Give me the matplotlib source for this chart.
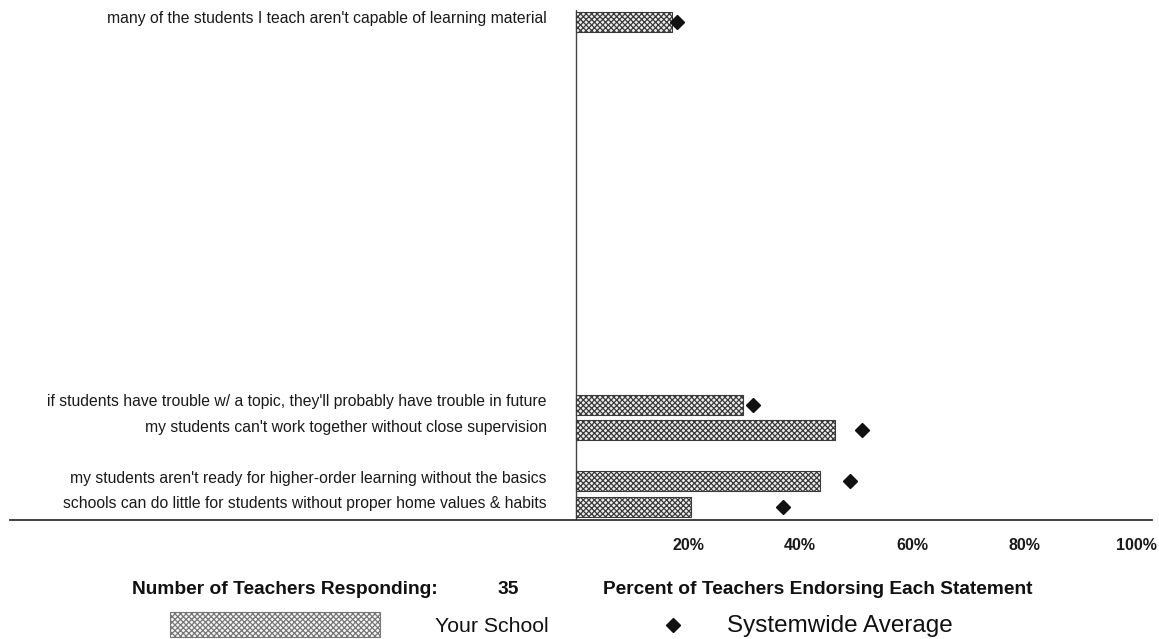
import matplotlib
matplotlib.use("Agg")
import matplotlib.pyplot as plt
from matplotlib.patches import Rectangle
from matplotlib.lines import Line2D

plt.rcParams['font.family'] = ['Liberation Sans', 'DejaVu Sans']
plt.rcParams['hatch.linewidth'] = 0.9

statements = [
    "schools can do little for students without proper home values & habits",
    "my students aren't ready for higher-order learning without the basics",
    "my students can't work together without close supervision",
    "if students have trouble w/ a topic, they'll probably have trouble in future",
    "many of the students I teach aren't capable of learning material",
]
slots = [0, 1, 3, 4, 19]
your_school = [20.5, 43.6, 46.3, 29.8, 17.1]
systemwide = [37.0, 49.0, 51.1, 31.6, 18.0]
tick_values = [20, 40, 60, 80, 100]
tick_labels = ["20%", "40%", "60%", "80%", "100%"]
n_teachers = 35

W, H = 1159, 639
fig = plt.figure(figsize=(W / 100, H / 100), dpi=100)
fig.patch.set_facecolor('white')

# axes geometry (pixels)
ax_left_px, ax_right_px = 10, 1152
ax_bottom_px, ax_top_px = 520, 10.3
ax = fig.add_axes([ax_left_px / W, 1 - ax_bottom_px / H,
                   (ax_right_px - ax_left_px) / W, (ax_bottom_px - ax_top_px) / H])
px_per_pct = 5.6
x0_px = 576
ax.set_xlim((ax_left_px - x0_px) / px_per_pct, (ax_right_px - x0_px) / px_per_pct)
ax.set_ylim(-0.51, 19.45)

ax.barh(slots, your_school, height=0.78, left=0, facecolor='#eeeeee',
        edgecolor='#3a3a3a', hatch='xxxxxx', linewidth=0.8, zorder=2)
ax.plot(systemwide, slots, linestyle='none', marker='D', markersize=7.6,
        color='#111111', zorder=3)

ax.axvline(0, ymin=0, ymax=1, color='#444444', linewidth=1.0, zorder=1)

for s in ['top', 'right', 'left']:
    ax.spines[s].set_visible(False)
ax.spines['bottom'].set_color('#333333')
ax.spines['bottom'].set_linewidth(1.3)

ax.set_yticks(slots)
ax.set_yticklabels([])
for y, lab in zip(slots, statements):
    ax.text(-5.2, y + 0.12, lab, ha='right', va='center', fontsize=11.3,
            color='#1a1a1a')
ax.tick_params(axis='y', length=0)

ax.set_xticks(tick_values)
ax.set_xticklabels(tick_labels, fontsize=11.5, fontweight='bold', color='#1a1a1a')
ax.tick_params(axis='x', length=0, pad=13)

# bottom annotations
fy = 1 - 590 / H
fig.text(132 / W, fy, "Number of Teachers Responding:", fontsize=13.8,
         fontweight='bold', ha='left', va='center', color='#111111')
fig.text(497 / W, fy, str(n_teachers), fontsize=13.8,
         fontweight='bold', ha='left', va='center', color='#111111')
fig.text(603 / W, fy, "Percent of Teachers Endorsing Each Statement",
         fontsize=13.8, fontweight='bold', ha='left', va='center', color='#111111')

# legend
fig.patches.append(Rectangle((170 / W, 1 - 637 / H), 210 / W, 25 / H,
                             transform=fig.transFigure, facecolor='#f7f7f7',
                             edgecolor='#777777', hatch='xxxxxx', linewidth=0.8))
fig.text(435 / W, 1 - 626 / H, "Your School", fontsize=15.3, ha='left',
         va='center', color='#111111')
fig.lines.append(Line2D([673 / W], [1 - 625 / H], transform=fig.transFigure,
                        marker='D', markersize=7.6, color='#111111', linestyle='none'))
fig.text(727 / W, 1 - 626 / H, "Systemwide Average", fontsize=17.5, ha='left',
         va='center', color='#111111')

fig.savefig('out.png', dpi=100, facecolor='white')
